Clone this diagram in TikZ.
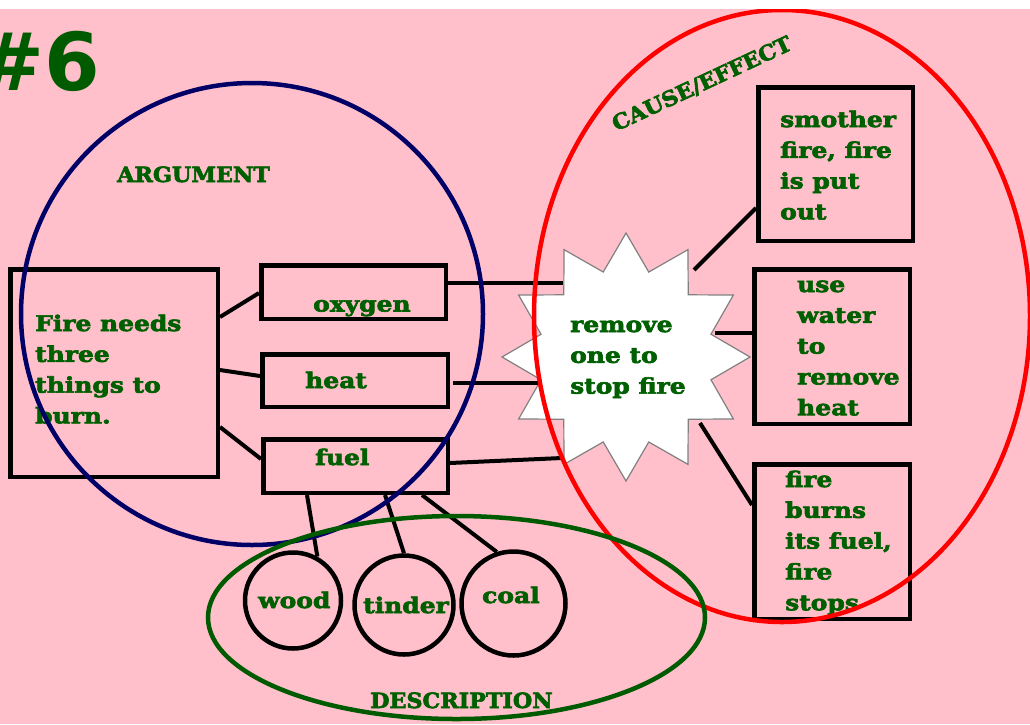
\documentclass[tikz,border=0pt]{standalone}
\usepackage{fontspec}
\setmainfont{DejaVu Serif}
\newfontfamily\heavy[FakeStretch=1.16,FakeBold=3]{DejaVu Serif Bold}
\newfontfamily\heavycaps[FakeStretch=1.06,FakeBold=3]{DejaVu Serif Bold}
\newfontfamily\numfont{DejaVu Sans}
\usetikzlibrary{shapes.geometric,calc}
\definecolor{bgpink}{RGB}{255,192,203}
\definecolor{txtgreen}{RGB}{0,95,0}
\definecolor{navyc}{RGB}{0,0,102}
\definecolor{descgreen}{RGB}{0,90,0}
\begin{document}
\begin{tikzpicture}[x=1pt,y=-1pt,
  box/.style={draw=black,line width=4.5pt,inner sep=0pt,rectangle},
  ring/.style={draw=black,line width=4.5pt,inner sep=0pt,circle},
  conn/.style={draw=black,line width=4pt},
  lbl/.style={text=txtgreen,font=\heavy\fontsize{21.5}{30.8}\selectfont,inner sep=0pt,align=left},
  capslbl/.style={text=txtgreen,font=\heavycaps\fontsize{21}{30.8}\selectfont,inner sep=0pt},
  region/.style={line width=4.5pt,inner sep=0pt}]
\useasboundingbox (0,0) rectangle (1030,724);
\fill[bgpink] (0,0) rectangle (1030,724);
% boxes
\node[box,minimum width=207.5,minimum height=207.5] (fire) at (114,373) {};
\node[box,minimum width=184.5,minimum height=53.5] (oxy) at (353.5,292) {};
\node[box,minimum width=185.5,minimum height=52.5] (heat) at (355,380.5) {};
\node[box,minimum width=184.5,minimum height=53.5] (fuel) at (355.5,466) {};
\node[box,minimum width=154.5,minimum height=153.5] (smother) at (835.5,164) {};
\node[box,minimum width=155.5,minimum height=154.5] (water) at (832,346.5) {};
\node[box,minimum width=155.5,minimum height=154.5] (burns) at (832,541.5) {};
% circles
\node[ring,minimum size=96] (wood) at (293,600.5) {};
\node[ring,minimum size=99] (tinder) at (404,605) {};
\node[ring,minimum size=104] (coal) at (513.5,603.5) {};
% star
\node[star,star points=12,star point ratio=1.41,minimum size=248,inner sep=0pt,
      fill=white,draw=gray,line width=1.2pt] (star) at (626,357) {};
% connectors
\draw[conn] (fire.east |- 0,317) -- (oxy.west |- 0,293);
\draw[conn] (fire.east |- 0,370) -- (heat.west |- 0,376);
\draw[conn] (fire.east |- 0,427) -- (fuel.west |- 0,459);
\draw[conn] (oxy.east |- 0,283) -- ($(star.center)+(-63,-74)$);
\draw[conn] ($(heat.east |- 0,383)+(3,0)$) -- ($(star.center)+(-88,26)$);
\draw[conn] (fuel.east |- 0,463) -- ($(star.center)+(-64,101)$);
\draw[conn] (fuel.south -| 307,0) -- (wood.61);
\draw[conn] (fuel.south -| 385,0) -- (tinder.90);
\draw[conn] (fuel.south -| 422,0) -- (coal.108);
\draw[conn] ($(star.center)+(68,-87)$) -- (smother.west |- 0,208);
\draw[conn] ($(star.center)+(89,-24)$) -- (water.west |- 0,333);
\draw[conn] ($(star.center)+(74,66)$) -- (burns.west |- 0,505);
% texts (base anchor = baseline of last line)
\node[lbl,anchor=base west] (firet) at (35,423.4) {Fire needs\\three\\things to\\burn.};
\node[lbl,anchor=base west] (oxyt) at (313,311.5) {oxygen};
\node[lbl,anchor=base west] (heatt) at (305,388) {heat};
\node[lbl,anchor=base west] (fuelt) at (315,465) {fuel};
\node[lbl,anchor=base west] (woodt) at (258,608) {wood};
\node[lbl,anchor=base west] (tindert) at (363,613) {tinder};
\node[lbl,anchor=base west] (coalt) at (482,603) {coal};
\node[lbl,anchor=base west] (start) at (570,393.6) {remove\\one to\\stop fire};
\node[lbl,anchor=base west] (smothert) at (780,219.4) {smother\\fire, fire\\is put\\out};
\node[lbl,anchor=base west] (watert) at (797,415.2) {use\\water\\to\\remove\\heat};
\node[lbl,anchor=base west] (burnst) at (785,610.2) {fire\\burns\\its fuel,\\fire\\stops};
\node[capslbl,anchor=base west] (argt) at (117,182) {ARGUMENT};
\node[capslbl,anchor=base west] (desct) at (370,708) {DESCRIPTION};
\node[capslbl,rotate=25] (causet) at (702,84) {CAUSE/EFFECT};
\node[text=descgreen,font=\numfont\bfseries\fontsize{80}{80}\selectfont,inner sep=0pt,anchor=base west] (num) at (-23,90) {\#6};
% regions
\node[region,draw=navyc,circle,minimum size=462] (argument) at (252,314) {};
\node[region,draw=red,ellipse,minimum width=496,minimum height=612] (cause) at (782,316) {};
\node[region,draw=descgreen,ellipse,minimum width=497,minimum height=203] (description) at (456.5,617.5) {};
\fill[white] (0,0) rectangle (1030,9);
\end{tikzpicture}
\end{document}
